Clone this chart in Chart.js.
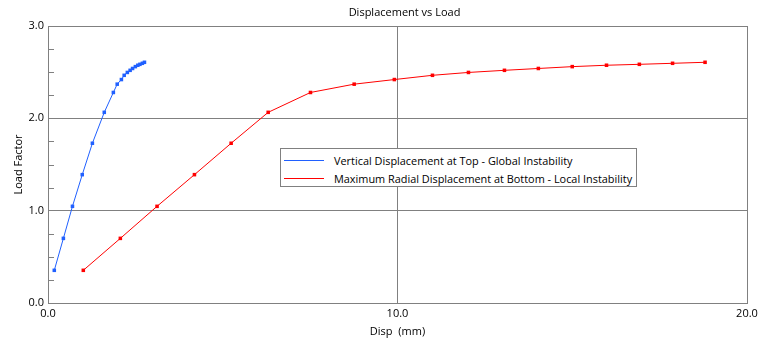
<!DOCTYPE html>
<html><head><meta charset="utf-8">
<script src="https://cdn.jsdelivr.net/npm/chart.js@4.4.1/dist/chart.umd.min.js"></script>
<style>
html,body{margin:0;padding:0;background:#fff;}
#wrap{position:relative;width:771px;height:355px;overflow:hidden;}
#legend{position:absolute;left:280px;top:148px;width:355px;height:37px;border:1px solid #808080;background:#fff;font-family:"Open Sans",sans-serif;font-size:10.9px;color:#000;}
.item{position:absolute;left:0;height:18px;display:flex;align-items:center;white-space:nowrap;}
.sw{display:inline-block;width:40px;height:1px;margin-left:3px;margin-right:10px;}
</style></head><body>
<div id="wrap"><canvas id="c" width="771" height="355"></canvas><div id="legend"></div></div>
<script>
// ---- data ----
const loadFactor = [0.354, 0.70, 1.047, 1.39, 1.73, 2.065, 2.28, 2.37, 2.42, 2.466, 2.497, 2.52, 2.54, 2.56, 2.575, 2.585, 2.596, 2.607];
const topDisp    = [0.18, 0.44, 0.70, 0.98, 1.27, 1.61, 1.87, 1.98, 2.10, 2.18, 2.27, 2.35, 2.42, 2.50, 2.57, 2.63, 2.70, 2.76];
const bottomDisp = [1.01, 2.07, 3.12, 4.19, 5.24, 6.30, 7.51, 8.76, 9.91, 11.0, 12.03, 13.06, 14.03, 15.0, 15.98, 16.92, 17.87, 18.8];
const seriesNames = ['Vertical Displacement at Top - Global Instability', 'Maximum Radial Displacement at Bottom - Local Instability'];
const xTickValues = [0, 10, 20];
const yTickValues = [0, 1, 2, 3];
const yMinorStep = 0.25;
const chartTitle = 'Displacement vs Load';
const xTitle = 'Disp  (mm)';
const yTitle = 'Load Factor';

const FONT = '"Open Sans", sans-serif';
const FS = 11;
const GRID = '#808080';
const BLUE = '#2060ff';
const RED = '#ff0000';

function pts(xs, ys) { return xs.map((x, i) => ({x: x, y: ys[i]})); }

const minorTicks = {
  id: 'minorTicks',
  beforeDatasetsDraw(chart) {
    const y = chart.scales.y, ctx = chart.ctx, left = chart.chartArea.left;
    const n = Math.round((y.max - y.min) / yMinorStep);
    ctx.save();
    ctx.strokeStyle = GRID; ctx.lineWidth = 1;
    ctx.beginPath();
    for (let i = 1; i < n; i++) {
      const v = y.min + i * yMinorStep;
      if (Math.abs(v - Math.round(v)) < 1e-9) continue;
      const py = Math.round(y.getPixelForValue(v)) + 0.5;
      ctx.moveTo(left, py); ctx.lineTo(left + 6, py);
    }
    ctx.stroke();
    ctx.restore();
  }
};
const titleCenter = {
  id: 'titleCenter',
  afterLayout(chart) {
    const t = chart.titleBlock;
    if (t) { t.left = chart.chartArea.left + 14; t.right = chart.chartArea.right; }
  }
};

const chart = new Chart(document.getElementById('c'), {
  type: 'scatter',
  data: {
    datasets: [
      {label: seriesNames[0], data: pts(topDisp, loadFactor), showLine: true, borderColor: BLUE, backgroundColor: BLUE,
       borderWidth: 1, tension: 0, pointStyle: 'rect', pointRadius: 2.5, pointHoverRadius: 2.5, pointBorderWidth: 0, pointBackgroundColor: BLUE},
      {label: seriesNames[1], data: pts(bottomDisp, loadFactor), showLine: true, borderColor: RED, backgroundColor: RED,
       borderWidth: 1, tension: 0, pointStyle: 'rect', pointRadius: 2.5, pointHoverRadius: 2.5, pointBorderWidth: 0, pointBackgroundColor: RED}
    ]
  },
  options: {
    responsive: false, animation: false, devicePixelRatio: 1,
    layout: {padding: {left: 0, right: 24, top: 0, bottom: 0}},
    plugins: {
      legend: {display: false},
      tooltip: {enabled: false},
      title: {display: true, text: chartTitle, color: '#000', font: {family: FONT, size: FS, weight: 'normal', lineHeight: 1.2},
              padding: {top: 6.4, bottom: 6.4}}
    },
    scales: {
      x: {
        type: 'linear', min: xTickValues[0], max: xTickValues[xTickValues.length - 1],
        afterBuildTicks: s => { s.ticks = xTickValues.map(v => ({value: v})); },
        ticks: {callback: v => Number(v).toFixed(1), color: '#000', font: {family: FONT, size: FS}, padding: 4, maxRotation: 0, autoSkip: false},
        grid: {color: GRID, lineWidth: 1, drawTicks: false},
        border: {color: GRID, width: 1},
        title: {display: true, text: xTitle, color: '#000', font: {family: FONT, size: FS}, padding: {top: 0, bottom: 17}},
        afterFit: s => { s.height = 52; s.paddingLeft = 0; s.paddingRight = 0; }
      },
      y: {
        type: 'linear', min: yTickValues[0], max: yTickValues[yTickValues.length - 1],
        afterBuildTicks: s => { s.ticks = yTickValues.map(v => ({value: v})); },
        ticks: {callback: v => Number(v).toFixed(1), color: '#000', font: {family: FONT, size: FS}, padding: 4, autoSkip: false},
        grid: {color: GRID, lineWidth: 1, drawTicks: false},
        border: {color: GRID, width: 1},
        title: {display: true, text: yTitle, color: '#000', font: {family: FONT, size: FS}, padding: {top: 12.5, bottom: 0}},
        afterFit: s => { s.width = 48; s.paddingTop = 0; s.paddingBottom = 0; }
      }
    }
  },
  plugins: [minorTicks, titleCenter]
});

// HTML legend built from the chart's datasets
const legendEl = document.getElementById('legend');
chart.data.datasets.forEach((ds, i) => {
  const item = document.createElement('div');
  item.className = 'item';
  item.style.top = (2 + i * 18) + 'px';
  const sw = document.createElement('span');
  sw.className = 'sw';
  sw.style.background = ds.borderColor;
  const tx = document.createElement('span');
  tx.textContent = ds.label;
  item.appendChild(sw); item.appendChild(tx);
  legendEl.appendChild(item);
});
</script></body></html>
